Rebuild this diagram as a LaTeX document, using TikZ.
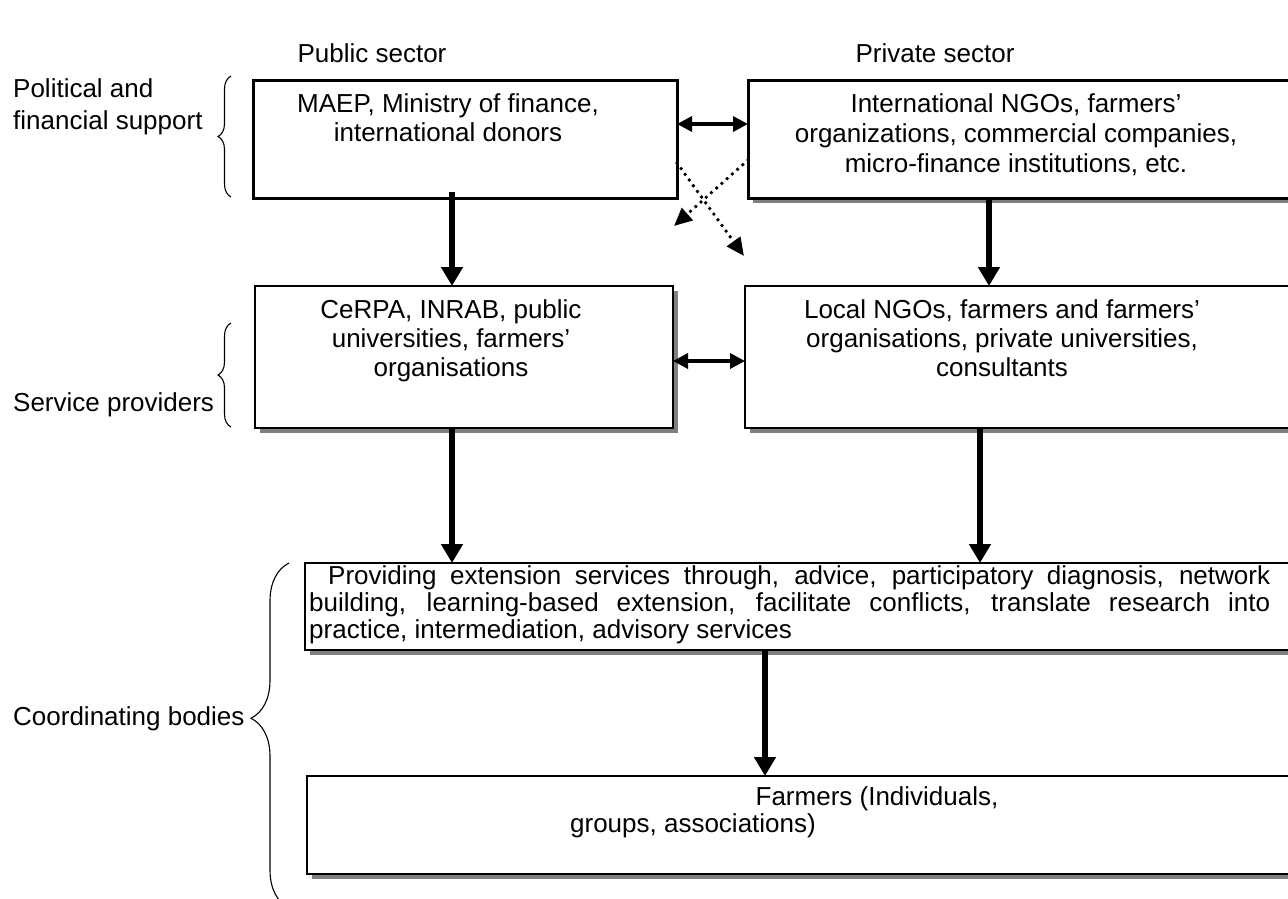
\documentclass[tikz,border=0pt]{standalone}
\usepackage{fontspec}
\setmainfont{Liberation Sans}
\usetikzlibrary{arrows.meta,decorations.pathreplacing,shadows,calc}
\definecolor{shadowgray}{RGB}{128,128,128}
\begin{document}
\begin{tikzpicture}[x=1pt,y=-1pt,
  txt/.style={font=\fontsize{26}{30}\selectfont, inner sep=0pt, anchor=base},
  ltxt/.style={txt, anchor=base west},
  box/.style={draw=black, fill=white, anchor=north west, inner sep=0pt, outer sep=0pt, line width=1.8pt},
  thickbox/.style={box, line width=3pt},
  shadowed/.style={general shadow={fill=shadowgray, shadow xshift=5pt, shadow yshift=-5pt}},
  bigarrow/.style={line width=6.5pt, -{Triangle[width=21pt,length=19pt]}},
  dblarrow/.style={line width=3.5pt, {Triangle[width=15pt,length=15pt]}-{Triangle[width=15pt,length=15pt]}},
  dotarrow/.style={line width=3.8pt, line cap=round, dash pattern=on 0pt off 7pt, -{Triangle[width=16pt,length=18pt]}},
  brc/.style={line width=1.1pt, decorate, decoration={brace, amplitude=13pt}}
]
\useasboundingbox (0,0) rectangle (1288,898);
\clip (0,0) rectangle (1288,898);

% boxes
\node[thickbox, minimum width=424pt, minimum height=118pt] (A) at (253,80) {};
\node[thickbox, shadowed, minimum width=570pt, minimum height=118pt] (B) at (748,80) {};
\node[box, shadowed, minimum width=418pt, minimum height=142pt] (C) at (255,286) {};
\node[box, shadowed, minimum width=570pt, minimum height=142pt] (D) at (745,286) {};
\node[box, shadowed, minimum width=1000pt, minimum height=87pt] (E) at (305,563) {};
\node[box, shadowed, minimum width=1000pt, minimum height=98pt] (F) at (307,776) {};

% headings
\node[txt] (pub) at (372,62) {Public sector};
\node[txt] (priv) at (935,62) {Private sector};

% side labels
\node[ltxt] (pol1) at (13,97) {Political and};
\node[ltxt] (pol2) at (13,129) {financial support};
\node[ltxt] (serv) at (13,411) {Service providers};
\node[ltxt] (coord) at (13,725) {Coordinating bodies};

% braces
\draw[brc] (231,197) -- (231,76);
\draw[brc] (231,427) -- (231,323);
\draw[brc, decoration={brace, amplitude=38pt, aspect=0.55}] (289,908) -- (289,563);

% box texts
\node[txt] (a1) at (448,112) {MAEP, Ministry of finance,};
\node[txt] (a2) at (448,141) {international donors};

\node[txt] (b1) at (1016,112) {International NGOs, farmers’};
\node[txt] (b2) at (1016,142) {organizations, commercial companies,};
\node[txt] (b3) at (1016,172) {micro-finance institutions, etc.};

\node[txt] (c1) at (451,318) {CeRPA, INRAB, public};
\node[txt] (c2) at (451,347) {universities, farmers’};
\node[txt] (c3) at (451,376) {organisations};

\node[txt] (d1) at (1002,318) {Local NGOs, farmers and farmers’};
\node[txt] (d2) at (1002,347) {organisations, private universities,};
\node[txt] (d3) at (1002,376) {consultants};

\node[ltxt] (e1) at (328,584) {\makebox[942pt][s]{Providing extension services through, advice, participatory diagnosis, network}};
\node[ltxt] (e2) at (309,611) {\makebox[961pt][s]{building, learning-based extension, facilitate conflicts, translate research into}};
\node[ltxt] (e3) at (309,638) {practice, intermediation, advisory services};

\node[txt] (f1) at (877,805) {Farmers (Individuals,};
\node[txt] (f2) at (693,832) {groups, associations)};

% guide coordinates
\coordinate (xl) at (452,0);
\coordinate (xr) at (989,0);
\coordinate (xr2) at (980,0);
\coordinate (xm) at (765,0);
\coordinate (ytop) at (0,124);
\coordinate (ymid) at (0,361);
\coordinate (ya) at (0,163);
\coordinate (yb) at (0,160);
\coordinate (dA) at (744,256);
\coordinate (dB) at (674,226);

% connectors
\draw[bigarrow] ([yshift=6pt]A.south -| xl) -- (C.north -| xl);
\draw[bigarrow] (B.south -| xr) -- (D.north -| xr);
\draw[bigarrow] (C.south -| xl) -- (E.north -| xl);
\draw[bigarrow] (D.south -| xr2) -- (E.north -| xr2);
\draw[bigarrow] (E.south -| xm) -- (F.north -| xm);
\draw[dblarrow] (A.east |- ytop) -- (B.west |- ytop);
\draw[dblarrow] (C.east |- ymid) -- (D.west |- ymid);
\draw[dotarrow] (A.east |- ya) -- (dA);
\draw[dotarrow] (B.west |- yb) -- (dB);
\end{tikzpicture}
\end{document}
